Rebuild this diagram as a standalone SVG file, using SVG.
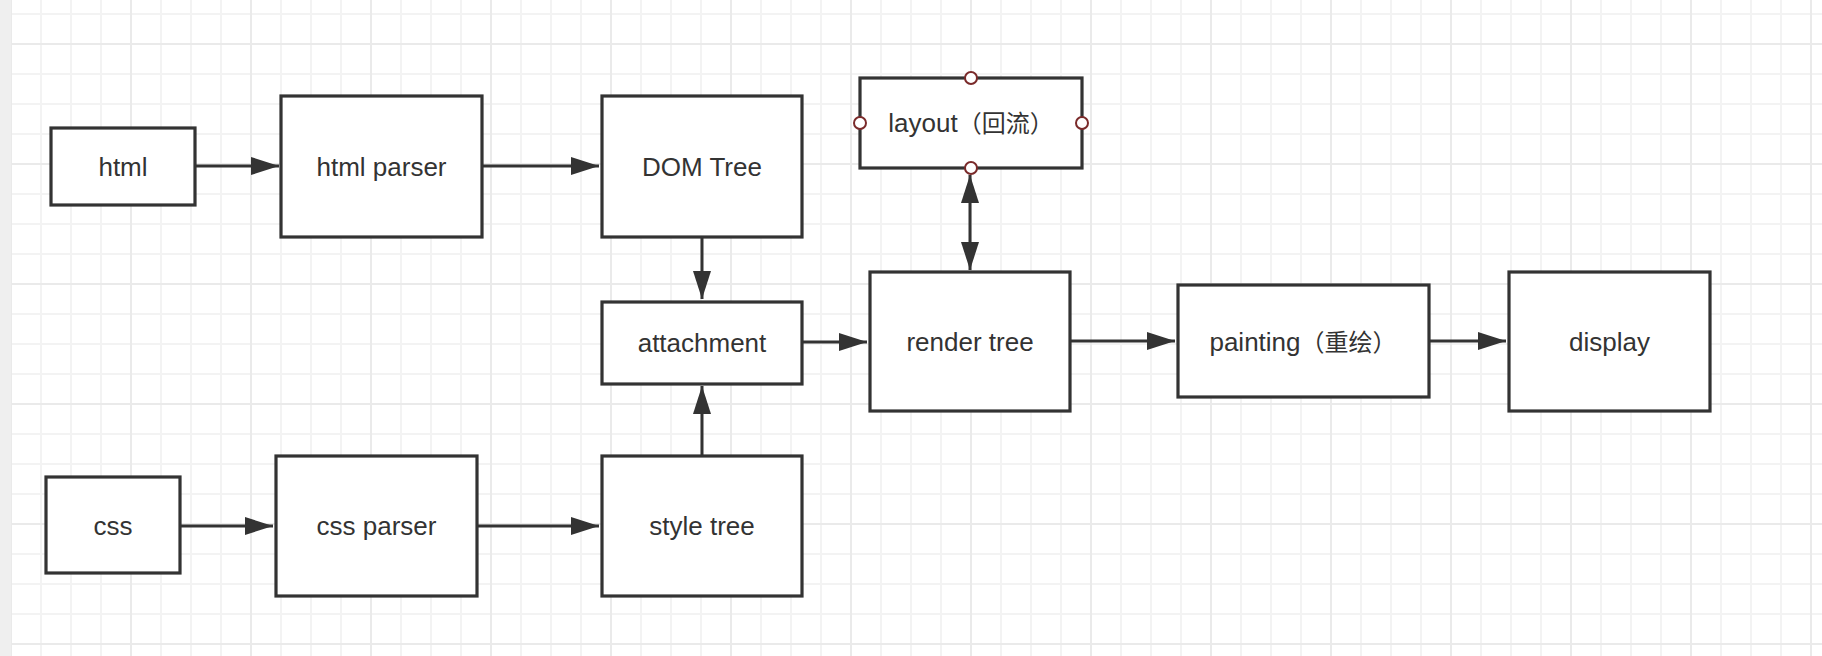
<svg xmlns="http://www.w3.org/2000/svg" width="1822" height="656" viewBox="0 0 1822 656">
  <style>
    .box { fill: #ffffff; stroke: #333333; stroke-width: 3.2; }
    .lbl { font-family: "Liberation Sans", Arial, "Noto Sans CJK SC", sans-serif; font-size: 26px; fill: #333333; text-anchor: middle; }
    .cjk { font-family: "Noto Sans CJK SC", "Noto Sans CJK TC", sans-serif; font-size: 24px; }
    .edge { fill: none; stroke: #333333; stroke-width: 3; }
    .port { fill: #ffffff; stroke: #7a2a2a; stroke-width: 2; }
  </style>
  <defs>
    <pattern id="minor" patternUnits="userSpaceOnUse" x="10" y="13" width="30" height="30">
      <path d="M0 1 H30 M1 0 V30" stroke="#f3f3f3" stroke-width="2" fill="none"/>
    </pattern>
    <pattern id="major" patternUnits="userSpaceOnUse" x="10" y="43" width="120" height="120">
      <path d="M0 1 H120 M1 0 V120" stroke="#eaeaea" stroke-width="2" fill="none"/>
    </pattern>
    <marker id="arrow" markerUnits="userSpaceOnUse" markerWidth="30" markerHeight="20" refX="28" refY="10" orient="auto-start-reverse" viewBox="0 0 30 20">
      <path d="M0 1 L28 10 L0 19 Z" fill="#333333"/>
    </marker>
  </defs>

  <rect x="0" y="0" width="1822" height="656" fill="#ffffff"/>
  <rect x="11" y="0" width="1811" height="656" fill="url(#minor)"/>
  <rect x="11" y="0" width="1811" height="656" fill="url(#major)"/>
  <rect x="0" y="0" width="11" height="656" fill="#efefef"/>

  <g id="connectors">
    <path class="edge" d="M195 166 H279" marker-end="url(#arrow)"/>
    <path class="edge" d="M482 166 H599" marker-end="url(#arrow)"/>
    <path class="edge" d="M702 237 V299" marker-end="url(#arrow)"/>
    <path class="edge" d="M702 456 V386" marker-end="url(#arrow)"/>
    <path class="edge" d="M802 342 H867" marker-end="url(#arrow)"/>
    <path class="edge" d="M970 270 V175" marker-start="url(#arrow)" marker-end="url(#arrow)"/>
    <path class="edge" d="M1070 341 H1175" marker-end="url(#arrow)"/>
    <path class="edge" d="M1429 341 H1506" marker-end="url(#arrow)"/>
    <path class="edge" d="M180 526 H273" marker-end="url(#arrow)"/>
    <path class="edge" d="M477 526 H599" marker-end="url(#arrow)"/>
  </g>

  <g id="node-html">
    <rect class="box" x="51" y="128" width="144" height="77"/>
    <text class="lbl" x="123" y="176">html</text>
  </g>
  <g id="node-html-parser">
    <rect class="box" x="281" y="96" width="201" height="141"/>
    <text class="lbl" x="381.5" y="176">html parser</text>
  </g>
  <g id="node-dom-tree">
    <rect class="box" x="602" y="96" width="200" height="141"/>
    <text class="lbl" x="702" y="176">DOM Tree</text>
  </g>
  <g id="node-layout">
    <rect class="box" x="860" y="78" width="222" height="90"/>
    <text class="lbl" x="971" y="132">layout<tspan class="cjk">（回流）</tspan></text>
    <circle class="port" cx="971" cy="78" r="6"/>
    <circle class="port" cx="860" cy="123" r="6"/>
    <circle class="port" cx="1082" cy="123" r="6"/>
    <circle class="port" cx="971" cy="168" r="6"/>
  </g>
  <g id="node-attachment">
    <rect class="box" x="602" y="302" width="200" height="82"/>
    <text class="lbl" x="702" y="352">attachment</text>
  </g>
  <g id="node-render-tree">
    <rect class="box" x="870" y="272" width="200" height="139"/>
    <text class="lbl" x="970" y="351">render tree</text>
  </g>
  <g id="node-painting">
    <rect class="box" x="1178" y="285" width="251" height="112"/>
    <text class="lbl" x="1303" y="351">painting<tspan class="cjk">（重绘）</tspan></text>
  </g>
  <g id="node-display">
    <rect class="box" x="1509" y="272" width="201" height="139"/>
    <text class="lbl" x="1609.5" y="351">display</text>
  </g>
  <g id="node-css">
    <rect class="box" x="46" y="477" width="134" height="96"/>
    <text class="lbl" x="113" y="535">css</text>
  </g>
  <g id="node-css-parser">
    <rect class="box" x="276" y="456" width="201" height="140"/>
    <text class="lbl" x="376.5" y="535">css parser</text>
  </g>
  <g id="node-style-tree">
    <rect class="box" x="602" y="456" width="200" height="140"/>
    <text class="lbl" x="702" y="535">style tree</text>
  </g>
</svg>
